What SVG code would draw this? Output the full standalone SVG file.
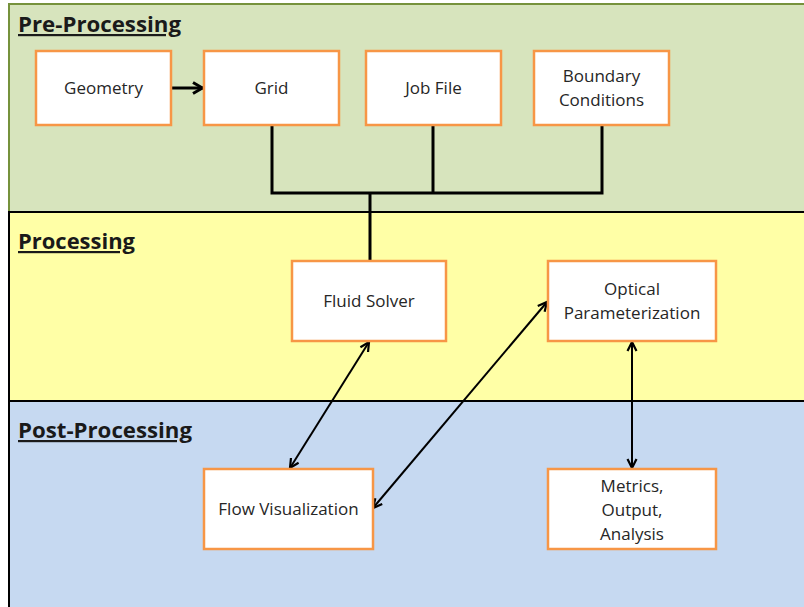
<svg xmlns="http://www.w3.org/2000/svg" width="804" height="607" viewBox="0 0 804 607">
<style>
.band{stroke-width:2}
.title{font-family:"Open Sans","Noto Sans",sans-serif;font-weight:bold;font-size:22px;fill:#1a1a1a;text-decoration:underline}
.box{fill:#ffffff;stroke:#F79646;stroke-width:2.5}
.lbl{font-family:"Open Sans","Noto Sans",sans-serif;font-size:17px;fill:#262626;text-anchor:middle}
.conn{fill:none;stroke:#000;stroke-width:3}
.arr{fill:none;stroke:#000;stroke-width:2}
</style>
<defs>
<marker id="ah" viewBox="0 0 12 12" refX="11" refY="6" markerWidth="12" markerHeight="12" orient="auto-start-reverse" markerUnits="userSpaceOnUse">
<path d="M2,1.5 L11,6 L2,10.5" fill="none" stroke="#000" stroke-width="2.2" stroke-linejoin="miter"/>
</marker>
<marker id="ah2" viewBox="0 0 14 14" refX="13" refY="7" markerWidth="14" markerHeight="14" orient="auto" markerUnits="userSpaceOnUse">
<path d="M3,1.5 L12.5,7 L3,12.5" fill="none" stroke="#000" stroke-width="3"/>
</marker>
</defs>
<rect width="804" height="607" fill="#ffffff"/>
<g id="band-pre">
<rect class="band" x="9" y="4" width="800" height="208" fill="#D7E4BD" stroke="#76923C"/>
<text class="title" x="18" y="32" textLength="163" lengthAdjust="spacingAndGlyphs">Pre-Processing</text>
</g>
<g id="band-proc">
<rect class="band" x="9" y="212" width="800" height="189" fill="#FFFFA6" stroke="#000"/>
<text class="title" x="18" y="249" textLength="117" lengthAdjust="spacingAndGlyphs">Processing</text>
</g>
<g id="band-post">
<rect class="band" x="9" y="401" width="800" height="210" fill="#C6D9F1" stroke="#000"/>
<text class="title" x="18" y="438" textLength="174" lengthAdjust="spacingAndGlyphs">Post-Processing</text>
</g>
<g id="connectors">
<line class="conn" x1="171" y1="88" x2="203" y2="88" marker-end="url(#ah2)"/>
<polyline class="conn" points="272,125 272,193 602,193 602,125"/>
<line class="conn" x1="433" y1="125" x2="433" y2="193"/>
<line class="conn" x1="370" y1="193" x2="370" y2="261"/>
<line class="arr" x1="369" y1="342" x2="290" y2="468" marker-start="url(#ah)" marker-end="url(#ah)"/>
<line class="arr" x1="547" y1="302" x2="373" y2="508" marker-start="url(#ah)" marker-end="url(#ah)"/>
<line class="arr" x1="632" y1="342" x2="632" y2="468" marker-start="url(#ah)" marker-end="url(#ah)"/>
</g>
<g id="geometry">
<rect class="box" x="36" y="51" width="135" height="74"/>
<text class="lbl" x="103.5" y="94">Geometry</text>
</g>
<g id="grid">
<rect class="box" x="204" y="51" width="135" height="74"/>
<text class="lbl" x="271.5" y="94">Grid</text>
</g>
<g id="jobfile">
<rect class="box" x="366" y="51" width="135" height="74"/>
<text class="lbl" x="433.5" y="94">Job File</text>
</g>
<g id="boundary">
<rect class="box" x="534" y="51" width="135" height="74"/>
<text class="lbl" x="601.5" y="82">Boundary</text>
<text class="lbl" x="601.5" y="106">Conditions</text>
</g>
<g id="fluidsolver">
<rect class="box" x="292" y="261" width="154" height="80"/>
<text class="lbl" x="369" y="307">Fluid Solver</text>
</g>
<g id="optical">
<rect class="box" x="548" y="261" width="168" height="80"/>
<text class="lbl" x="632" y="295">Optical</text>
<text class="lbl" x="632" y="319">Parameterization</text>
</g>
<g id="flowviz">
<rect class="box" x="204" y="469" width="169" height="80"/>
<text class="lbl" x="288.5" y="515">Flow Visualization</text>
</g>
<g id="metrics">
<rect class="box" x="548" y="469" width="168" height="80"/>
<text class="lbl" x="632" y="492">Metrics,</text>
<text class="lbl" x="632" y="516">Output,</text>
<text class="lbl" x="632" y="540">Analysis</text>
</g>
</svg>
